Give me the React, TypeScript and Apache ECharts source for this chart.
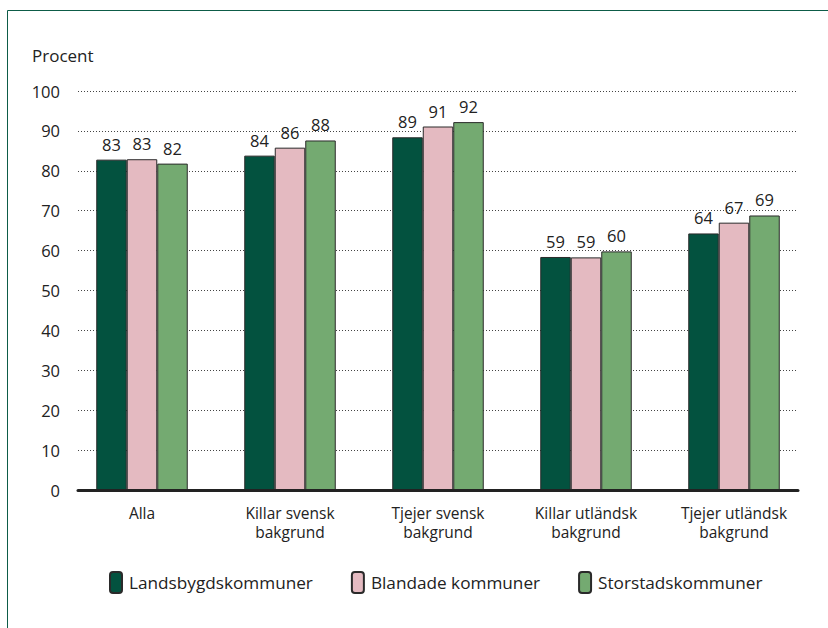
import React, { useEffect, useRef } from "react";
import * as echarts from "echarts";

const categories = [
  "Alla",
  "Killar svensk\nbakgrund",
  "Tjejer svensk\nbakgrund",
  "Killar utländsk\nbakgrund",
  "Tjejer utländsk\nbakgrund",
];
const seriesNames = ["Landsbygdskommuner", "Blandade kommuner", "Storstadskommuner"];
const landsbygd = [82.8, 83.8, 88.4, 58.4, 64.3];
const blandade = [82.9, 85.8, 91.1, 58.3, 67.0];
const storstad = [81.8, 87.6, 92.2, 59.8, 68.8];
const landsbygdLabels = [83, 84, 89, 59, 64];
const blandadeLabels = [83, 86, 91, 59, 67];
const storstadLabels = [82, 88, 92, 60, 69];
const colors = ["#03523f", "#e4bac1", "#74aa71"];
const yTicks = { min: 0, max: 100, interval: 10 };

const FONT = "Open Sans";

export default function App() {
  const ref = useRef<HTMLDivElement>(null);
  useEffect(() => {
    if (!ref.current) return;
    const chart = echarts.init(ref.current, null, { renderer: "svg" });
    const values = [landsbygd, blandade, storstad];
    const labels = [landsbygdLabels, blandadeLabels, storstadLabels];
    chart.setOption({
      animation: false,
      backgroundColor: "#ffffff",
      textStyle: { fontFamily: FONT },
      title: {
        text: "Procent",
        left: 32,
        top: 47,
        padding: 0,
        textStyle: { fontFamily: FONT, fontSize: 17, fontWeight: "normal", color: "#222" },
      },
      graphic: [
        {
          type: "rect",
          shape: { x: 7.5, y: 10.5, width: 900, height: 700 },
          style: { fill: "none", stroke: "#0d5c48", lineWidth: 1 },
          silent: true,
        },
      ],
      legend: {
        data: seriesNames,
        left: 109,
        top: 571,
        padding: 0,
        itemWidth: 12,
        itemHeight: 21,
        itemGap: 38,
        textStyle: { fontFamily: FONT, fontSize: 17.2, color: "#222", padding: [0, 0, 0, 2] },
      },
      grid: [
        { left: 78, right: 30, top: 91, bottom: 138 },
        { left: 68, right: 20, top: 91, bottom: 138 },
      ],
      xAxis: [
        {
          type: "category",
          gridIndex: 0,
          data: categories,
          z: 10,
          axisLine: { show: true, lineStyle: { color: "#222", width: 3 } },
          axisTick: { show: false },
          axisLabel: { show: false },
          splitLine: { show: false },
        },
        {
          type: "category",
          gridIndex: 1,
          data: categories,
          axisLine: { show: false },
          axisTick: { show: false },
          axisLabel: {
            fontFamily: FONT,
            fontSize: 15.5,
            color: "#222",
            margin: 13,
            lineHeight: 19,
          },
        },
      ],
      yAxis: [
        {
          type: "value",
          gridIndex: 0,
          min: yTicks.min,
          max: yTicks.max,
          interval: yTicks.interval,
          axisLine: { show: false },
          axisTick: { show: false },
          axisLabel: { fontFamily: FONT, fontSize: 16.5, color: "#222", margin: 18 },
          splitLine: { show: true, lineStyle: { color: "#444", type: [1, 2], width: 1 } },
        },
        {
          type: "value",
          gridIndex: 1,
          min: yTicks.min,
          max: yTicks.max,
          interval: yTicks.interval,
          show: false,
          splitLine: { show: false },
        },
      ],
      series: seriesNames.map((name, i) => ({
        name,
        type: "bar",
        xAxisIndex: 1,
        yAxisIndex: 1,
        data: values[i],
        barWidth: 30.5,
        barGap: "0%",
        itemStyle: { color: colors[i], borderColor: "#2a2a2a", borderWidth: 1 },
        label: {
          show: true,
          position: "top",
          distance: 7,
          fontFamily: FONT,
          fontSize: 16.5,
          color: "#222",
          formatter: (p: any) => String(labels[i][p.dataIndex]),
        },
      })),
    });
    return () => chart.dispose();
  }, []);
  return (
    <div
      ref={ref}
      style={{ position: "absolute", left: 0, top: 0, width: 828, height: 628 }}
    />
  );
}
